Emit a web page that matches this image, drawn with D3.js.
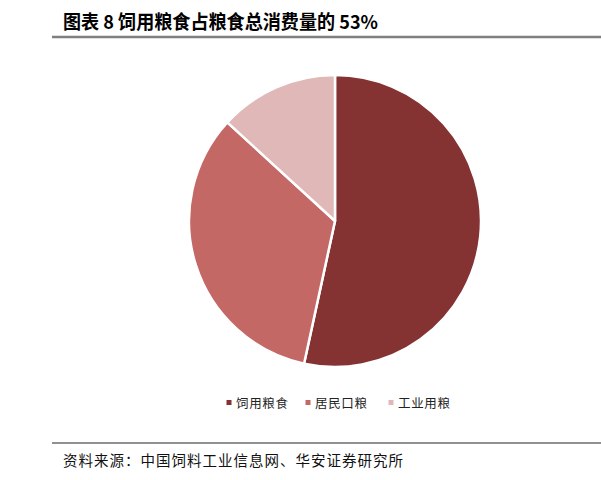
<!DOCTYPE html>
<html><head><meta charset="utf-8">
<script src="https://cdn.jsdelivr.net/npm/d3@7"></script>
<style>body{margin:0;background:#fff;}svg{display:block;}</style>
</head><body>
<svg id="chart" width="601" height="480"></svg>
<script>
const categories = ["饲用粮食", "居民口粮", "工业用粮"];
const values = [53.4, 33.4, 13.2];
const colors = ["#843232", "#c46866", "#e0b8b8"];
const titleText = "图表 8 饲用粮食占粮食总消费量的 53%";
const sourceText = "资料来源：中国饲料工业信息网、华安证券研究所";

const svg = d3.select("#chart");
const font = "'Noto Sans CJK SC','Noto Sans',sans-serif";

// Title
svg.append("text").attr("x", 63).attr("y", 29)
  .attr("font-family", font).attr("font-weight", "bold").attr("font-size", 19)
  .attr("fill", "#000").attr("textLength", 315).attr("lengthAdjust", "spacingAndGlyphs")
  .text(titleText);
svg.append("line").attr("x1", 52).attr("x2", 601).attr("y1", 37).attr("y2", 37)
  .attr("stroke", "#7f7f7f").attr("stroke-width", 2.5);

// Pie
const cx = 335, cy = 221, r = 146;
const pie = d3.pie().sort(null).value(d => d.v);
const arc = d3.arc().innerRadius(0).outerRadius(r);
const data = categories.map((c, i) => ({c, v: values[i], col: colors[i]}));
const g = svg.append("g").attr("transform", `translate(${cx},${cy})`);
g.selectAll("path").data(pie(data)).join("path")
  .attr("d", arc).attr("fill", d => d.data.col)
  .attr("stroke", "#fff").attr("stroke-width", 2.5).attr("stroke-linejoin", "round");

// Legend
const legendX = [229, 308, 391];
const lg = svg.append("g");
data.forEach((d, i) => {
  lg.append("rect").attr("x", legendX[i] - 2.5).attr("y", 400).attr("width", 5).attr("height", 5).attr("fill", d.col);
  lg.append("text").attr("x", legendX[i] + 7).attr("y", 408)
    .attr("font-family", font).attr("font-size", 12.5).attr("fill", "#222")
    .attr("textLength", 52).attr("lengthAdjust", "spacing")
    .text(d.c);
});

// Source
svg.append("line").attr("x1", 52).attr("x2", 601).attr("y1", 443).attr("y2", 443)
  .attr("stroke", "#222").attr("stroke-width", 1.2);
svg.append("text").attr("x", 63).attr("y", 466)
  .attr("font-family", font).attr("font-size", 14.5).attr("fill", "#111")
  .attr("textLength", 340).attr("lengthAdjust", "spacing")
  .text(sourceText);
</script>
</body></html>
